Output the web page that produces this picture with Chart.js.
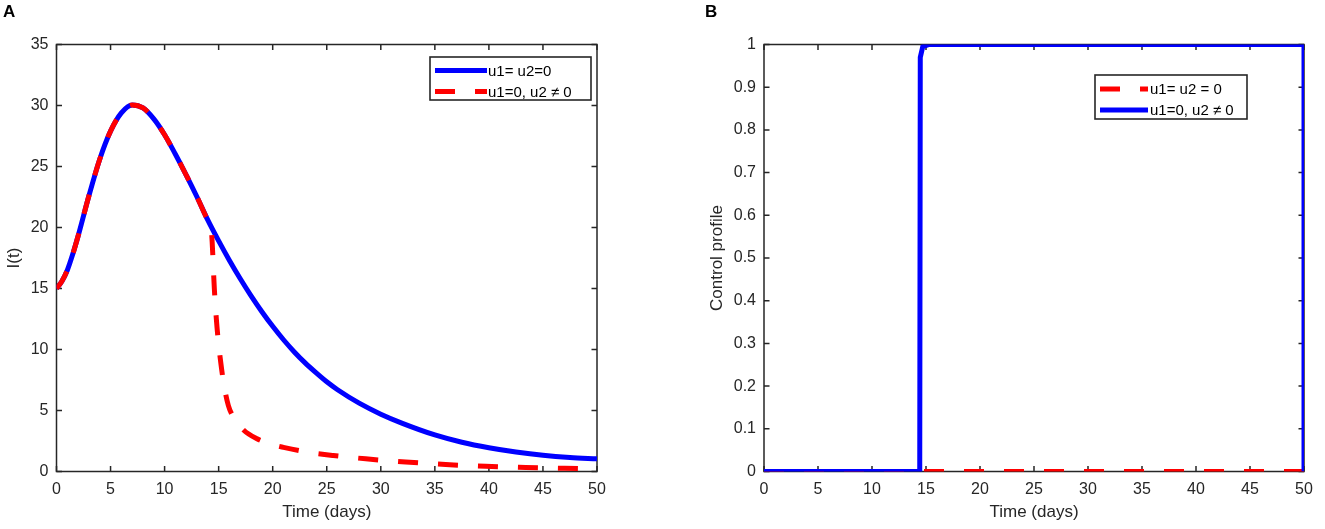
<!DOCTYPE html>
<html>
<head>
<meta charset="utf-8">
<script src="https://cdn.jsdelivr.net/npm/chart.js@4.4.0/dist/chart.umd.min.js"></script>
<style>
  html, body { margin: 0; padding: 0; background: #fff; }
  #wrap { position: relative; width: 1325px; height: 529px; overflow: hidden; }
  .panel { position: absolute; top: 0; height: 529px; }
  #panelA { left: 0; width: 662px; }
  #panelB { left: 662px; width: 663px; }
  .tag { position: absolute; top: 2px; font: bold 17px 'Liberation Sans', Arial, sans-serif; color: #000; }
</style>
</head>
<body>
<div id="wrap">
  <div class="panel" id="panelA"><canvas id="chartA"></canvas></div>
  <div class="panel" id="panelB"><canvas id="chartB"></canvas></div>
  <div class="tag" style="left:3px">A</div>
  <div class="tag" style="left:705px">B</div>
</div>
<script>
// panel A: infected I(t), no control
const daysA = [0, 0.5, 1, 1.5, 2, 3, 4, 5, 6, 7, 8, 9, 10, 11, 12, 13, 14, 15, 16, 17, 18, 19, 20,
  21, 22, 23, 24, 25, 26, 28, 30, 32, 35, 37.5, 40, 42.5, 45, 47.5, 50];
const infectedNoControl = [15.0, 15.6, 16.5, 17.8, 19.3, 22.6, 25.6, 27.9, 29.4, 30.05, 29.8, 28.9, 27.6,
  26.0, 24.3, 22.5, 20.6, 18.9, 17.3, 15.8, 14.4, 13.1, 11.9, 10.8, 9.8, 8.9, 8.1, 7.35, 6.7, 5.6, 4.7,
  3.95, 3.0, 2.4, 1.95, 1.6, 1.33, 1.15, 1.04];

// panel A: infected I(t), u2 switched on
const daysA2 = [0, 0.5, 1, 1.5, 2, 3, 4, 5, 6, 7, 8, 9, 10, 11, 12, 13, 14, 14.3, 14.4, 14.6, 14.85,
  15.2, 15.55, 15.9, 16.4, 17.3, 18.5, 20, 21, 23, 25.6, 28.6, 32.3, 36, 39.7, 43.4, 47, 50];
const infectedControl = [15.0, 15.6, 16.5, 17.8, 19.3, 22.6, 25.6, 27.9, 29.4, 30.05, 29.8, 28.9, 27.6,
  26.0, 24.3, 22.5, 20.6, 20.0, 18.8, 15.0, 11.8, 8.9, 6.8, 5.4, 4.4, 3.4, 2.7, 2.2, 1.98, 1.62, 1.31,
  1.04, 0.78, 0.57, 0.43, 0.33, 0.26, 0.21];

// panel B: control profiles
const daysB0 = [0, 50];
const controlZero = [0, 0];
const daysB = [0, 14.42, 14.47, 14.7, 15.3, 50, 50];
const controlU2 = [0, 0, 0.97, 0.995, 1, 1, 0];

// tick labels
const dayTicks = [0, 5, 10, 15, 20, 25, 30, 35, 40, 45, 50];
const infectedTicks = [0, 5, 10, 15, 20, 25, 30, 35];
const controlTicks = [0, 0.1, 0.2, 0.3, 0.4, 0.5, 0.6, 0.7, 0.8, 0.9, 1];

const FONT = "'Liberation Sans', Arial, sans-serif";
const INK = '#262626';
const BLUE = '#0000ff';
const RED = '#ff0000';

const pts = (xs, ys) => xs.map((x, i) => ({ x: x, y: ys[i] }));

// box round the plot with inward ticks, like matlab
const matlabFrame = {
  id: 'matlabFrame',
  beforeDatasetsDraw(chart) {
    const { ctx, chartArea: a, scales } = chart;
    const tl = 5.5;
    ctx.save();
    ctx.strokeStyle = INK;
    ctx.lineWidth = 1.5;
    ctx.beginPath();
    scales.x.ticks.forEach(t => {
      const px = scales.x.getPixelForValue(t.value);
      ctx.moveTo(px, a.bottom); ctx.lineTo(px, a.bottom - tl);
      ctx.moveTo(px, a.top); ctx.lineTo(px, a.top + tl);
    });
    scales.y.ticks.forEach(t => {
      const py = scales.y.getPixelForValue(t.value);
      ctx.moveTo(a.left, py); ctx.lineTo(a.left + tl, py);
      ctx.moveTo(a.right, py); ctx.lineTo(a.right - tl, py);
    });
    ctx.stroke();
    ctx.strokeRect(a.left, a.top, a.right - a.left, a.bottom - a.top);
    ctx.restore();
  }
};

// legend in a box inside the plot
const boxLegend = {
  id: 'boxLegend',
  afterDatasetsDraw(chart, args, opts) {
    const { ctx, chartArea: a } = chart;
    const left = a.right - opts.right - opts.width;
    const top = a.top + opts.top;
    ctx.save();
    ctx.fillStyle = '#fff';
    ctx.fillRect(left, top, opts.width, opts.height);
    ctx.strokeStyle = INK;
    ctx.lineWidth = 1.6;
    ctx.strokeRect(left, top, opts.width, opts.height);
    ctx.font = '15px ' + FONT;
    ctx.textBaseline = 'middle';
    opts.items.forEach((idx, i) => {
      const ds = chart.data.datasets[idx];
      const yy = top + opts.rowTop + i * opts.rowGap;
      ctx.beginPath();
      ctx.setLineDash(ds.borderDash || []);
      ctx.strokeStyle = ds.borderColor;
      ctx.lineWidth = ds.borderWidth;
      ctx.moveTo(left + 5, yy);
      ctx.lineTo(left + 5 + opts.sample, yy);
      ctx.stroke();
      ctx.setLineDash([]);
      ctx.fillStyle = '#000';
      ctx.fillText(ds.label, left + opts.textX, yy + 1);
    });
    ctx.restore();
  }
};

function axis(title, ticks, min, max, width, height, titlePad) {
  return {
    type: 'linear',
    min: min,
    max: max,
    grid: { display: false, drawTicks: false },
    border: { display: false },
    afterBuildTicks: s => { s.ticks = ticks.map(v => ({ value: v })); },
    afterFit: s => {
      if (width) s.width = width;
      if (height) s.height = height;
    },
    ticks: {
      color: INK,
      padding: 8,
      font: { family: FONT, size: 16 },
      callback: v => String(Number(v.toFixed(2)))
    },
    title: {
      display: true,
      text: title,
      color: INK,
      padding: titlePad,
      font: { family: FONT, size: 17 }
    }
  };
}

function makeChart(id, datasets, xAxis, yAxis, padding, legend) {
  return new Chart(document.getElementById(id), {
    type: 'line',
    data: { datasets: datasets },
    options: {
      responsive: true,
      maintainAspectRatio: false,
      animation: false,
      layout: { padding: padding },
      elements: { point: { radius: 0 } },
      scales: { x: xAxis, y: yAxis },
      plugins: { legend: { display: false }, tooltip: { enabled: false }, boxLegend: legend }
    },
    plugins: [matlabFrame, boxLegend]
  });
}

makeChart('chartA', [
  {
    label: 'u1= u2=0',
    data: pts(daysA, infectedNoControl),
    borderColor: BLUE,
    borderWidth: 5,
    cubicInterpolationMode: 'monotone',
    order: 1
  },
  {
    label: 'u1=0, u2 \u2260 0',
    data: pts(daysA2, infectedControl),
    borderColor: RED,
    borderWidth: 5,
    borderDash: [20, 20],
    cubicInterpolationMode: 'monotone',
    order: 0
  }
],
  axis('Time (days)', dayTicks, 0, 50, 0, 57.5, { top: 6, bottom: 6 }),
  axis('I(t)', infectedTicks, 0, 35, 56.5, 0, { top: 4, bottom: 4 }),
  { top: 44.5, right: 65, bottom: 0, left: 0 },
  { right: 6, top: 12.5, width: 161, height: 43, rowTop: 13.5, rowGap: 21, sample: 52, textX: 58, items: [0, 1] }
);

makeChart('chartB', [
  {
    label: 'u1= u2 = 0',
    data: pts(daysB0, controlZero),
    borderColor: RED,
    borderWidth: 5,
    borderDash: [20, 20],
    tension: 0,
    order: 1
  },
  {
    label: 'u1=0, u2 \u2260 0',
    data: pts(daysB, controlU2),
    borderColor: BLUE,
    borderWidth: 5,
    tension: 0,
    order: 0
  }
],
  axis('Time (days)', dayTicks, 0, 50, 0, 57.5, { top: 6, bottom: 6 }),
  axis('Control profile', controlTicks, 0, 1, 102, 0, { top: 45, bottom: 45 }),
  { top: 44.5, right: 21, bottom: 0, left: 0 },
  { right: 57, top: 30.5, width: 152, height: 44, rowTop: 14, rowGap: 21, sample: 48, textX: 55, items: [0, 1] }
);
</script>
</body>
</html>
